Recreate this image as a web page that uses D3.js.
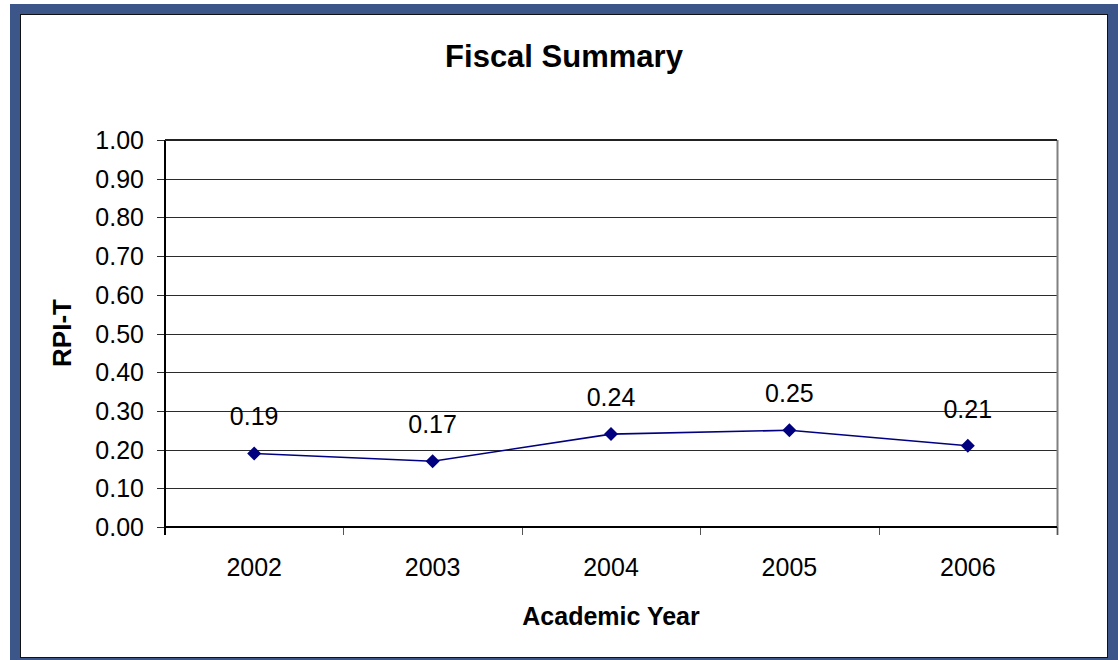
<!DOCTYPE html>
<html>
<head>
<meta charset="utf-8">
<script src="https://cdn.jsdelivr.net/npm/d3@7"></script>
<style>
  body { margin: 0; background: #fff; }
  text { font-family: Arial, "Liberation Sans", sans-serif; fill: #000; }
</style>
</head>
<body>
<script>
var years = ["2002", "2003", "2004", "2005", "2006"];
var rpiT = [0.19, 0.17, 0.24, 0.25, 0.21];
var yTicks = [0, 0.1, 0.2, 0.3, 0.4, 0.5, 0.6, 0.7, 0.8, 0.9, 1.0];

var W = 1118, H = 660;
// plot edges (note: "top" is a reserved window property, so use plotTop etc.)
var plotLeft = 165, plotRight = 1057, plotTop = 140, plotBottom = 527;

var svg = d3.select("body")
    .append("svg")
    .attr("width", W)
    .attr("height", H);

// blue frame
svg.append("rect")
    .attr("x", 10).attr("y", 4)
    .attr("width", W - 10).attr("height", H - 4)
    .attr("fill", "#3d5689");
svg.append("rect")
    .attr("x", 20.5).attr("y", 14.5)
    .attr("width", 1087).attr("height", 643)
    .attr("fill", "#fff")
    .attr("stroke", "#111")
    .attr("stroke-width", 1);

var xScale = d3.scaleBand()
    .domain(years)
    .range([plotLeft, plotRight]);
var yScale = d3.scaleLinear()
    .domain([0, 1])
    .range([plotBottom, plotTop]);

// gridlines
svg.append("g")
    .selectAll("line")
    .data(yTicks)
    .enter()
    .append("line")
    .attr("x1", plotLeft - 8)
    .attr("x2", plotRight)
    .attr("y1", function (d) { return Math.round(yScale(d)) + 0.5; })
    .attr("y2", function (d) { return Math.round(yScale(d)) + 0.5; })
    .attr("stroke", "#2b2b2b")
    .attr("stroke-width", 1);

// right border of plot
svg.append("line")
    .attr("x1", plotRight + 0.5).attr("x2", plotRight + 0.5)
    .attr("y1", plotTop).attr("y2", plotBottom + 8)
    .attr("stroke", "#808080")
    .attr("stroke-width", 2);

// y tick labels
svg.append("g")
    .selectAll("text")
    .data(yTicks)
    .enter()
    .append("text")
    .attr("x", 144)
    .attr("y", function (d) { return yScale(d); })
    .attr("dy", "0.36em")
    .attr("text-anchor", "end")
    .attr("font-size", "25px")
    .text(function (d) { return d3.format(".2f")(d); });

// x ticks at band edges
var edges = years.map(function (d) { return xScale(d); }).concat([plotRight]);
svg.append("g")
    .selectAll("line")
    .data(edges)
    .enter()
    .append("line")
    .attr("x1", function (d) { return Math.round(d) + 0.5; })
    .attr("x2", function (d) { return Math.round(d) + 0.5; })
    .attr("y1", plotBottom)
    .attr("y2", plotBottom + 8)
    .attr("stroke", "#555")
    .attr("stroke-width", 1);

// axes lines
svg.append("line")
    .attr("x1", plotLeft).attr("x2", plotLeft)
    .attr("y1", plotTop).attr("y2", plotBottom + 8)
    .attr("stroke", "#000")
    .attr("stroke-width", 2);
svg.append("line")
    .attr("x1", plotLeft).attr("x2", plotRight)
    .attr("y1", plotBottom).attr("y2", plotBottom)
    .attr("stroke", "#000")
    .attr("stroke-width", 2);
svg.append("line")
    .attr("x1", plotLeft).attr("x2", plotRight)
    .attr("y1", plotTop).attr("y2", plotTop)
    .attr("stroke", "#222")
    .attr("stroke-width", 2);

// x tick labels
svg.append("g")
    .selectAll("text")
    .data(years)
    .enter()
    .append("text")
    .attr("x", function (d) { return xScale(d) + xScale.bandwidth() / 2; })
    .attr("y", 576)
    .attr("text-anchor", "middle")
    .attr("font-size", "25px")
    .text(function (d) { return d; });

// series line
var line = d3.line()
    .x(function (d, i) { return xScale(years[i]) + xScale.bandwidth() / 2; })
    .y(function (d) { return yScale(d); });
svg.append("path")
    .datum(rpiT)
    .attr("d", line)
    .attr("fill", "none")
    .attr("stroke", "#000080")
    .attr("stroke-width", 1.6);

// diamond markers
svg.append("g")
    .selectAll("path")
    .data(rpiT)
    .enter()
    .append("path")
    .attr("transform", function (d, i) {
        return "translate(" + (xScale(years[i]) + xScale.bandwidth() / 2) + "," + yScale(d) + ")";
    })
    .attr("d", "M0,-7L7,0L0,7L-7,0Z")
    .attr("fill", "#000080");

// data labels
svg.append("g")
    .selectAll("text")
    .data(rpiT)
    .enter()
    .append("text")
    .attr("x", function (d, i) { return xScale(years[i]) + xScale.bandwidth() / 2; })
    .attr("y", function (d) { return yScale(d) - 28; })
    .attr("text-anchor", "middle")
    .attr("font-size", "25px")
    .text(function (d) { return d3.format(".2f")(d); });

// titles
svg.append("text")
    .attr("x", 564)
    .attr("y", 67)
    .attr("text-anchor", "middle")
    .attr("font-size", "31px")
    .attr("font-weight", "bold")
    .text("Fiscal Summary");

svg.append("text")
    .attr("x", (plotLeft + plotRight) / 2)
    .attr("y", 625)
    .attr("text-anchor", "middle")
    .attr("font-size", "25px")
    .attr("font-weight", "bold")
    .text("Academic Year");

svg.append("text")
    .attr("transform", "translate(71,333) rotate(-90)")
    .attr("text-anchor", "middle")
    .attr("font-size", "26px")
    .attr("font-weight", "bold")
    .text("RPI-T");
</script>
</body>
</html>
